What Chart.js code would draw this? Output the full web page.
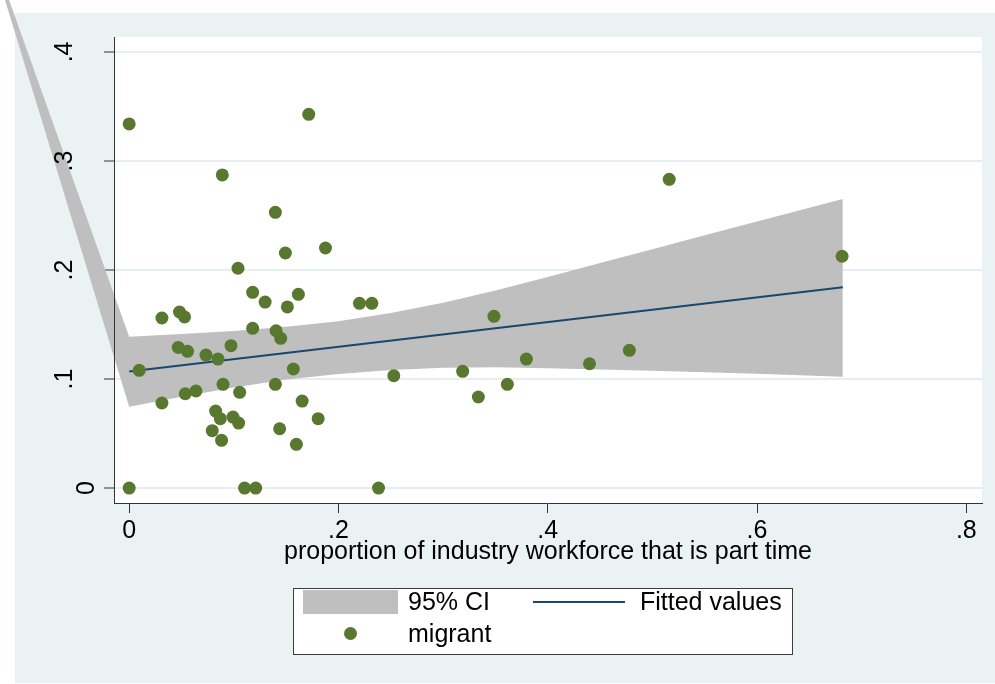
<!DOCTYPE html>
<html>
<head>
<meta charset="utf-8">
<script src="https://cdn.jsdelivr.net/npm/chart.js@4.4.1/dist/chart.umd.min.js"></script>
<style>
html,body{margin:0;padding:0;background:#fff;}
#wrap{position:relative;width:995px;height:684px;overflow:hidden;}
#c{position:absolute;left:0;top:0;}
#legend{position:absolute;left:293px;top:588px;width:500px;height:67px;box-sizing:border-box;
  border:1px solid #3c3c3c;background:#fff;display:grid;
  grid-template-columns:95px 135px 92px auto;grid-template-rows:25px 25px;row-gap:7px;
  padding-left:9px;align-items:center;align-content:start;
  font-family:"Liberation Sans",Arial,sans-serif;font-size:25px;line-height:25px;color:#000;}
.sym-rect{width:95px;height:24px;}
.sym-line{width:92px;height:2px;}
.sym-dot{width:13px;height:13px;border-radius:50%;justify-self:center;}
.lab{padding-left:10px;white-space:nowrap;}
.lab2{padding-left:15px;}
</style>
</head>
<body>
<div id="wrap">
  <canvas id="c" width="995" height="684"></canvas>
  <div id="legend"></div>
</div>
<script>
// ---- data ----
const migrantX = [0.000, 0.000, 0.0096, 0.0313, 0.0313, 0.0481, 0.0529, 0.0469, 0.0558, 0.0536,
  0.0638, 0.0734, 0.0849, 0.0973, 0.0890, 0.1040, 0.0897, 0.0826, 0.0871, 0.0794,
  0.0883, 0.0992, 0.1056, 0.1046, 0.1103, 0.1209, 0.1180, 0.1180, 0.1299, 0.1397,
  0.1404, 0.1448, 0.1397, 0.1438, 0.1493, 0.1512, 0.1569, 0.1617, 0.1598, 0.1653,
  0.1716, 0.1806, 0.1876, 0.2201, 0.2319, 0.2383, 0.2529, 0.3187, 0.3337, 0.3486,
  0.3614, 0.3796, 0.4399, 0.4780, 0.5161, 0.6813];
const migrantY = [0.334, 0.000, 0.108, 0.156, 0.078, 0.1615, 0.157, 0.129, 0.1254, 0.0865,
  0.089, 0.122, 0.1183, 0.1306, 0.2872, 0.2016, 0.0951, 0.0706, 0.0636, 0.0526,
  0.0438, 0.0651, 0.0878, 0.0596, 0.000, 0.000, 0.1795, 0.1465, 0.1706, 0.2529,
  0.1443, 0.1373, 0.0951, 0.0544, 0.2156, 0.1661, 0.1092, 0.1777, 0.0401, 0.0798,
  0.3428, 0.0636, 0.2202, 0.1694, 0.1694, 0.000, 0.103, 0.1071, 0.0835, 0.1575,
  0.0951, 0.1183, 0.114, 0.1263, 0.2832, 0.2126];

const fitX = [0, 0.682];
const fitY = [0.1069, 0.1841];

const ciX     = [-0.142, 0,      0.05,   0.1,    0.15,   0.2,    0.25,   0.3,    0.35,   0.4,    0.45,   0.5,    0.55,   0.6,    0.682];
const ciUpper = [0.521,  0.1388, 0.1413, 0.1441, 0.1480, 0.1530, 0.1605, 0.1700, 0.1812, 0.1935, 0.2064, 0.2191, 0.2318, 0.2445, 0.2651];
const ciLower = [0.521,  0.0746, 0.0838, 0.0922, 0.0995, 0.1045, 0.1082, 0.1103, 0.1107, 0.1100, 0.1088, 0.1075, 0.1063, 0.1048, 0.1021];

const xTickValues = [0, 0.2, 0.4, 0.6, 0.8];
const xTickLabels = ['0', '.2', '.4', '.6', '.8'];
const yTickValues = [0, 0.1, 0.2, 0.3, 0.4];
const yTickLabels = ['0', '.1', '.2', '.3', '.4'];
const xAxisTitle = 'proportion of industry workforce that is part time';
const seriesLabels = {ci: '95% CI', fit: 'Fitted values', pts: 'migrant'};

// ---- styling ----
const FONT = '"Liberation Sans", Arial, sans-serif';
const GREEN = '#58782f';
const NAVY = '#1a476f';
const GRAY = '#bfbfbf';

Chart.defaults.font.family = FONT;
Chart.defaults.font.size = 25;
Chart.defaults.color = '#000';

const toXY = (xs, ys) => xs.map((x, i) => ({x: x, y: ys[i]}));

const bgPlugin = {
  id: 'bg',
  beforeDraw(chart) {
    const ctx = chart.ctx, a = chart.chartArea;
    ctx.save();
    ctx.fillStyle = '#ffffff';
    ctx.fillRect(0, 0, chart.width, chart.height);
    ctx.fillStyle = '#eaf2f3';
    ctx.fillRect(15, 13, chart.width - 15, chart.height - 14);
    ctx.fillStyle = '#ffffff';
    ctx.fillRect(a.left, a.top, a.right - a.left, a.bottom - a.top);
    ctx.restore();
  }
};

// lets the CI band spill outside the plot region as in the original
const overflowPlugin = {
  id: 'bandOverflow',
  beforeDatasetsDraw(chart) {
    chart.$savedArea = chart.chartArea;
    chart.chartArea = {left: 0, top: 0, right: chart.width, bottom: chart.height,
                       width: chart.width, height: chart.height};
  },
  afterDatasetsDraw(chart) {
    if (chart.$savedArea) { chart.chartArea = chart.$savedArea; chart.$savedArea = null; }
  }
};

// rotated y tick labels
const yLabelPlugin = {
  id: 'yRotLabels',
  afterDraw(chart) {
    const s = chart.scales.y, ctx = chart.ctx;
    ctx.save();
    ctx.font = '25px ' + FONT;
    ctx.fillStyle = '#000';
    ctx.textAlign = 'center';
    ctx.textBaseline = 'alphabetic';
    yTickValues.forEach((v, i) => {
      const lab = yTickLabels[i];
      const py = s.getPixelForValue(v);
      const bx = lab.charAt(0) === '.' ? s.right - 42 : s.right - 20;
      ctx.save();
      ctx.translate(bx, py);
      ctx.rotate(-Math.PI / 2);
      ctx.fillText(lab, 0, 0);
      ctx.restore();
    });
    ctx.restore();
  }
};

const chart = new Chart(document.getElementById('c'), {
  type: 'scatter',
  data: {
    datasets: [
      {
        type: 'scatter', label: seriesLabels.pts,
        data: toXY(migrantX, migrantY),
        pointRadius: 6.5, pointHoverRadius: 6.5, pointBorderWidth: 0,
        pointBackgroundColor: GREEN, backgroundColor: GREEN
      },
      {
        type: 'line', label: seriesLabels.fit, showLine: true,
        data: toXY(fitX, fitY),
        borderColor: NAVY, borderWidth: 2, pointRadius: 0, fill: false, tension: 0
      },
      {
        type: 'line', label: seriesLabels.ci, showLine: true,
        data: toXY(ciX, ciUpper),
        borderWidth: 0, pointRadius: 0, backgroundColor: GRAY, fill: '+1', clip: false, tension: 0
      },
      {
        type: 'line', label: '', showLine: true,
        data: toXY(ciX, ciLower),
        borderWidth: 0, pointRadius: 0, fill: false, clip: false, tension: 0
      }
    ]
  },
  options: {
    responsive: false,
    animation: false,
    devicePixelRatio: 1,
    events: [],
    layout: {padding: {left: 0, right: 13, top: 37, bottom: 0}},
    plugins: {
      legend: {display: false},
      tooltip: {enabled: false},
      filler: {drawTime: 'beforeDatasetDraw', propagate: true}
    },
    scales: {
      x: {
        type: 'linear', position: 'bottom',
        min: -0.0145, max: 0.815,
        afterBuildTicks: s => { s.ticks = xTickValues.map(v => ({value: v})); },
        afterFit: s => { s.height = 181; },
        grid: {display: true, drawOnChartArea: false, drawTicks: true, tickLength: 10,
               tickColor: '#333', tickWidth: 1},
        border: {display: true, color: '#333', width: 1, z: 1},
        ticks: {padding: 3, color: '#000', font: {size: 25}, maxRotation: 0, minRotation: 0,
                autoSkip: false, callback: (v, i) => xTickLabels[i]},
        title: {display: true, text: xAxisTitle, color: '#000', font: {size: 25},
                padding: {top: 0, bottom: 117}}
      },
      y: {
        type: 'linear', position: 'left',
        min: -0.0137, max: 0.4137,
        afterBuildTicks: s => { s.ticks = yTickValues.map(v => ({value: v})); },
        afterFit: s => { s.width = 114; },
        grid: {display: true, drawOnChartArea: true, color: '#e6eef0', lineWidth: 2,
               drawTicks: true, tickLength: 10, tickColor: '#333', tickWidth: 1},
        border: {display: true, color: '#333', width: 1, z: 1},
        ticks: {display: false}
      }
    }
  },
  plugins: [bgPlugin, overflowPlugin, yLabelPlugin]
});

// legend built from the chart's datasets
(function buildLegend(ch) {
  const box = document.getElementById('legend');
  box.innerHTML = '';
  const items = ch.data.datasets.filter(d => d.label).slice().reverse();
  items.forEach((d, k) => {
    const sym = document.createElement('div');
    if (d.fill) { sym.className = 'sym-rect'; sym.style.background = d.backgroundColor; }
    else if (d.showLine) { sym.className = 'sym-line'; sym.style.background = d.borderColor; }
    else { sym.className = 'sym-dot'; sym.style.background = d.pointBackgroundColor; }
    const lab = document.createElement('div');
    lab.className = 'lab' + (k % 2 ? ' lab2' : '');
    lab.textContent = d.label;
    box.appendChild(sym);
    box.appendChild(lab);
  });
})(chart);
</script>
</body>
</html>
